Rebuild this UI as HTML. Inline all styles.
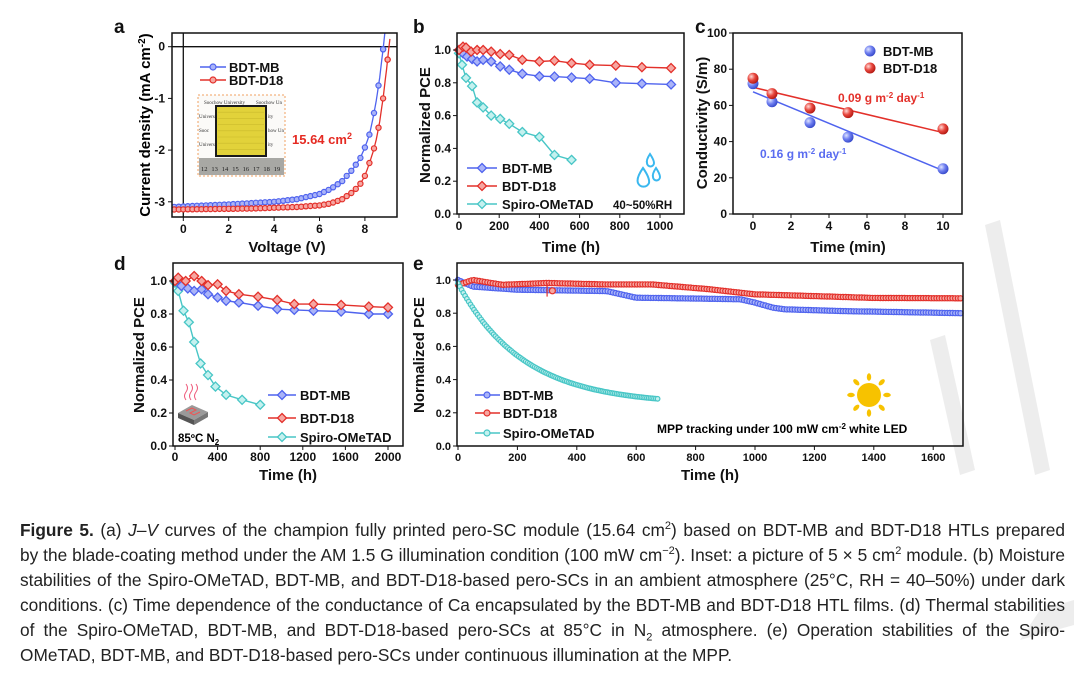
<!DOCTYPE html>
<html><head><meta charset="utf-8">
<style>
html,body{margin:0;padding:0;background:#fff;}
body{width:1074px;height:676px;position:relative;overflow:hidden;font-family:"Liberation Sans",Arial,sans-serif;}
svg{position:absolute;left:0;top:0;}
.cap{position:absolute;left:20px;width:1045px;font-size:17.3px;color:#222;text-align:justify;text-align-last:justify;white-space:nowrap;line-height:20px;}
.cap.last{text-align-last:left;}
sup,sub{line-height:0;}
</style></head><body>
<svg id="s" width="1074" height="676" viewBox="0 0 1074 676" font-family="Liberation Sans, Arial, sans-serif"></svg>
<div class="cap" style="top:520px"><b>Figure 5.</b> (a) <i>J</i>–<i>V</i> curves of the champion fully printed pero-SC module (15.64 cm<sup style="font-size:11px">2</sup>) based on BDT-MB and BDT-D18 HTLs prepared</div>
<div class="cap" style="top:545px">by the blade-coating method under the AM 1.5 G illumination condition (100 mW cm<sup style="font-size:11px">−2</sup>). Inset: a picture of 5 × 5 cm<sup style="font-size:11px">2</sup> module. (b) Moisture</div>
<div class="cap" style="top:570px">stabilities of the Spiro-OMeTAD, BDT-MB, and BDT-D18-based pero-SCs in an ambient atmosphere (25°C, RH = 40–50%) under dark</div>
<div class="cap" style="top:595px">conditions. (c) Time dependence of the conductance of Ca encapsulated by the BDT-MB and BDT-D18 HTL films. (d) Thermal stabilities</div>
<div class="cap" style="top:620px">of the Spiro-OMeTAD, BDT-MB, and BDT-D18-based pero-SCs at 85°C in N<sub style="font-size:11px">2</sub> atmosphere. (e) Operation stabilities of the Spiro-</div>
<div class="cap last" style="top:645px">OMeTAD, BDT-MB, and BDT-D18-based pero-SCs under continuous illumination at the MPP.</div>
<script>
const S=document.getElementById('s');let h='';
const B='#4f63ee',BF='#aab4f8',R='#e3302a',RF='#f6a7a2',C='#48c6c6',CF='#c4f1ef';
h+='<g fill="#e6e6e6" opacity="0.7"><polygon points="985,225 1000,220 1050,470 1035,475"/><polygon points="930,340 945,335 975,470 960,475"/><polygon points="1020,640 1040,610 1074,600 1074,625"/></g>';
function txt(x,y,t,o){o=o||{};h+=`<text x="${x}" y="${y}" font-size="${o.s||12}" font-weight="${o.w||'bold'}" fill="${o.c||'#111'}" text-anchor="${o.a||'start'}"${o.r?` transform="rotate(-90 ${x} ${y})"`:''}>${t}</text>`;}
function box(x1,y1,x2,y2){h+=`<rect x="${x1}" y="${y1}" width="${x2-x1}" height="${y2-y1}" fill="none" stroke="#111" stroke-width="1.5"/>`;}
function interp(p,t){for(let i=0;i<p.length-1;i++){if(t<=p[i+1][0]){let f=(t-p[i][0])/(p[i+1][0]-p[i][0]);return p[i][1]+f*(p[i+1][1]-p[i][1]);}}return p[p.length-1][1];}
function poly(pts,col,w){h+=`<polyline points="${pts.map(p=>p[0].toFixed(1)+','+p[1].toFixed(1)).join(' ')}" fill="none" stroke="${col}" stroke-width="${w||1.5}"/>`;}
function dia(x,y,col,f,r){r=r||5;h+=`<polygon points="${x},${y-r} ${x+r},${y} ${x},${y+r} ${x-r},${y}" fill="${f}" stroke="${col}" stroke-width="1.3"/>`;}
function circ(x,y,col,f,r){h+=`<circle cx="${x.toFixed(1)}" cy="${y.toFixed(1)}" r="${r||3}" fill="${f}" stroke="${col}" stroke-width="1.2"/>`;}
function sph(x,y,id,r){h+=`<circle cx="${x}" cy="${y}" r="${r||5.5}" fill="url(#${id})"/>`;}
h+='<defs><radialGradient id="gb" cx="0.35" cy="0.35" r="0.7"><stop offset="0" stop-color="#dfe4ff"/><stop offset="0.5" stop-color="#6f7ff0"/><stop offset="1" stop-color="#3346c8"/></radialGradient><radialGradient id="gr" cx="0.35" cy="0.35" r="0.7"><stop offset="0" stop-color="#ffd9d6"/><stop offset="0.5" stop-color="#e8473e"/><stop offset="1" stop-color="#b0160f"/></radialGradient><clipPath id="ca"><rect x="172" y="33" width="225" height="184"/></clipPath></defs>';
txt(114,33,'a',{s:19});txt(413,33,'b',{s:19});txt(695,33,'c',{s:19});txt(114,270,'d',{s:19});txt(413,270,'e',{s:19});
// ===== a =====
{const X=v=>183.3+22.7*v,Y=j=>46.7-51.7*j;
h+=`<line x1="172" y1="${Y(0)}" x2="397" y2="${Y(0)}" stroke="#111" stroke-width="1.3"/><line x1="${X(0)}" y1="33" x2="${X(0)}" y2="217" stroke="#111" stroke-width="1.3"/>`;
const mb=[[-0.5,-3.1],[2,-3.05],[4,-3.0],[5,-2.95],[6,-2.85],[6.5,-2.75],[7,-2.6],[7.5,-2.35],[7.8,-2.15],[8,-1.95],[8.2,-1.7],[8.35,-1.4],[8.5,-1.05],[8.65,-0.6],[8.8,-0.05],[8.9,0.35]];
const d18=[[-0.5,-3.15],[3,-3.13],[5,-3.1],[6,-3.07],[6.5,-3.03],[7,-2.95],[7.5,-2.8],[7.8,-2.65],[8,-2.5],[8.2,-2.25],[8.35,-2.05],[8.5,-1.8],[8.65,-1.45],[8.8,-1.0],[8.95,-0.45],[9.1,0.15]];
h+='<g clip-path="url(#ca)">';
[[mb,B,BF],[d18,R,RF]].forEach(([p,c,f])=>{let pts=[];for(let v=-0.5;v<=p[p.length-1][0]+1e-6;v+=0.05)pts.push([X(v),Y(interp(p,v))]);poly(pts,c,1.3);
for(let v=-0.4;v<=p[p.length-1][0]-0.05;v+=0.2)circ(X(v),Y(interp(p,v)),c,f,2.6);circ(X(p[p.length-1][0]-0.1),Y(interp(p,p[p.length-1][0]-0.1)),c,f,2.6);});
h+='</g>';box(172,33,397,217);
[[0,'0'],[-1,'-1'],[-2,'-2'],[-3,'-3']].forEach(([v,t])=>{h+=`<line x1="168" x2="172" y1="${Y(v)}" y2="${Y(v)}" stroke="#111"/>`;txt(165,Y(v)+4,t,{a:'end'});});
[0,2,4,6,8].forEach(v=>{h+=`<line x1="${X(v)}" x2="${X(v)}" y1="217" y2="221" stroke="#111"/>`;txt(X(v),233,v,{a:'middle'});});
txt(287,252,'Voltage (V)',{s:15,a:'middle'});
h+=`<text x="150" y="125" font-size="15" font-weight="bold" text-anchor="middle" transform="rotate(-90 150 125)">Current density (mA cm<tspan dy="-5" font-size="10">-2</tspan><tspan dy="5">)</tspan></text>`;
h+=`<line x1="200" x2="226" y1="67" y2="67" stroke="${B}" stroke-width="1.5"/><line x1="200" x2="226" y1="80" y2="80" stroke="${R}" stroke-width="1.5"/>`;circ(213,67,B,BF,3);circ(213,80,R,RF,3);
txt(229,72,'BDT-MB',{s:13});txt(229,85,'BDT-D18',{s:13});
h+='<rect x="198" y="95" width="87" height="81" fill="#fbfaf8" stroke="#f0a060" stroke-dasharray="2,2"/>';
h+='<g font-family="Liberation Serif,serif" font-size="5" fill="#333"><text x="204" y="104">Soochow University</text><text x="256" y="104">Soochow Un</text><text x="199" y="118">Universi</text><text x="199" y="132">Sooc</text><text x="199" y="146">Universi</text><text x="268" y="118">ity</text><text x="268" y="132">how Un</text><text x="268" y="146">ity</text></g>';
h+='<rect x="216" y="106" width="50" height="50" fill="#e2d23a" stroke="#1a1a1a" stroke-width="2"/>';
for(let i=1;i<8;i++)h+=`<line x1="218" x2="264" y1="${106+i*6.2}" y2="${106+i*6.2}" stroke="#cbbb2c" stroke-width="0.6"/>`;
h+='<rect x="199" y="158" width="85" height="17" fill="#a8a8a4"/>';
h+='<g font-family="Liberation Serif,serif" font-size="6.5" fill="#222">';[12,13,14,15,16,17,18,19].forEach((n,i)=>h+=`<text x="${201+i*10.4}" y="171">${n}</text>`);h+='</g>';
h+=`<text x="292" y="144" font-size="13" font-weight="bold" fill="#e52a22">15.64 cm<tspan dy="-5" font-size="9">2</tspan></text>`;
}
// ===== b =====
{const X=t=>459+t*0.201,Y=v=>214-v*164;
const mb=[[0,1.0],[20,0.98],[40,0.96],[65,0.945],[90,0.93],[120,0.94],[160,0.93],[205,0.9],[250,0.88],[315,0.855],[400,0.84],[475,0.838],[560,0.832],[650,0.825],[780,0.8],[910,0.795],[1055,0.79]];
const d18=[[0,1.0],[20,1.02],[35,1.015],[60,0.99],[90,1.0],[120,1.0],[160,0.99],[205,0.975],[250,0.97],[315,0.94],[400,0.93],[475,0.935],[560,0.92],[650,0.91],[780,0.905],[910,0.895],[1055,0.89]];
const sp=[[0,0.98],[15,0.91],[35,0.83],[65,0.78],[90,0.68],[120,0.65],[160,0.6],[205,0.58],[250,0.55],[315,0.5],[400,0.47],[475,0.36],[560,0.33]];
[[sp,C,CF],[mb,B,BF],[d18,R,RF]].forEach(([p,c,f])=>{poly(p.map(q=>[X(q[0]),Y(q[1])]),c,1.4);p.forEach(q=>dia(X(q[0]),Y(q[1]),c,f,4.5));});
box(457,33,684,214);
for(let i=0;i<=5;i++){let v=i*0.2;h+=`<line x1="453" x2="457" y1="${Y(v)}" y2="${Y(v)}" stroke="#111"/>`;txt(451,Y(v)+4,v.toFixed(1),{a:'end'});}
[0,200,400,600,800,1000].forEach(t=>{h+=`<line x1="${X(t)}" x2="${X(t)}" y1="214" y2="218" stroke="#111"/>`;txt(X(t),230,t,{a:'middle'});});
txt(571,252,'Time (h)',{s:15,a:'middle'});txt(430,125,'Normalized PCE',{s:15,a:'middle',r:1});
[[168,B,BF,'BDT-MB'],[186,R,RF,'BDT-D18'],[204,C,CF,'Spiro-OMeTAD']].forEach(([y,c,f,t])=>{h+=`<line x1="467" x2="497" y1="${y}" y2="${y}" stroke="${c}" stroke-width="1.5"/>`;dia(482,y,c,f,4.5);txt(502,y+5,t,{s:13});});
txt(613,209,'40~50%RH',{s:11.5});
h+=`<g fill="none" stroke="#3ab8ef" stroke-width="2"><path d="M643,168 q-7,10 -5,15 a6,6 0 0 0 11,0 q1,-5 -6,-15z"/><path d="M650,154 q-4,6 -3,9 a3.5,3.5 0 0 0 7,0 q0,-3 -4,-9z"/><path d="M656,168 q-4,6 -3,9 a3.5,3.5 0 0 0 7,0 q0,-3 -4,-9z"/></g>`;
}
// ===== c =====
{const X=t=>753+19*t,Y=v=>214-1.81*v;
h+=`<line x1="${X(0)}" y1="${Y(67.5)}" x2="${X(10)}" y2="${Y(24)}" stroke="${B}" stroke-width="1.5"/><line x1="${X(0)}" y1="${Y(70)}" x2="${X(10)}" y2="${Y(45)}" stroke="${R}" stroke-width="1.5"/>`;
[[0,72],[1,62],[3,50.5],[5,42.5],[10,25]].forEach(q=>sph(X(q[0]),Y(q[1]),'gb'));
[[0,75],[1,66.5],[3,58.5],[5,56],[10,47]].forEach(q=>sph(X(q[0]),Y(q[1]),'gr'));
box(733,33,962,214);
for(let v=0;v<=100;v+=20){h+=`<line x1="729" x2="733" y1="${Y(v)}" y2="${Y(v)}" stroke="#111"/>`;txt(727,Y(v)+4,v,{a:'end'});}
for(let t=0;t<=10;t+=2){h+=`<line x1="${X(t)}" x2="${X(t)}" y1="214" y2="218" stroke="#111"/>`;txt(X(t),230,t,{a:'middle'});}
txt(848,252,'Time (min)',{s:15,a:'middle'});txt(707,123,'Conductivity (S/m)',{s:15,a:'middle',r:1});
sph(870,51,'gb');sph(870,68,'gr');txt(883,56,'BDT-MB',{s:13});txt(883,73,'BDT-D18',{s:13});
h+=`<text x="838" y="102" font-size="12" font-weight="bold" fill="${R}">0.09 g m<tspan dy="-4" font-size="8">-2</tspan><tspan dy="4"> day</tspan><tspan dy="-4" font-size="8">-1</tspan></text>`;
h+=`<text x="760" y="158" font-size="12" font-weight="bold" fill="#5a6cf0">0.16 g m<tspan dy="-4" font-size="8">-2</tspan><tspan dy="4"> day</tspan><tspan dy="-4" font-size="8">-1</tspan></text>`;
}
// ===== d =====
{const X=t=>175+t*0.1065,Y=v=>446-v*165;
const mb=[[0,1.0],[60,0.97],[120,0.955],[180,0.94],[250,0.95],[310,0.92],[400,0.9],[480,0.88],[600,0.87],[780,0.85],[960,0.83],[1120,0.825],[1300,0.82],[1560,0.815],[1820,0.8],[2000,0.8]];
const d18=[[0,1.0],[30,1.02],[100,1.0],[180,1.03],[250,1.0],[310,0.975],[400,0.98],[480,0.94],[600,0.92],[780,0.905],[960,0.885],[1120,0.86],[1300,0.86],[1560,0.855],[1820,0.845],[2000,0.84]];
const sp=[[0,0.99],[30,0.94],[80,0.82],[130,0.75],[180,0.63],[240,0.5],[310,0.43],[380,0.36],[480,0.31],[630,0.28],[800,0.25]];
[[sp,C,CF],[mb,B,BF],[d18,R,RF]].forEach(([p,c,f])=>{poly(p.map(q=>[X(q[0]),Y(q[1])]),c,1.4);p.forEach(q=>dia(X(q[0]),Y(q[1]),c,f,4.5));});
box(173,263,403,446);
for(let i=0;i<=5;i++){let v=i*0.2;h+=`<line x1="169" x2="173" y1="${Y(v)}" y2="${Y(v)}" stroke="#111"/>`;txt(167,Y(v)+4,v.toFixed(1),{a:'end'});}
[0,400,800,1200,1600,2000].forEach(t=>{h+=`<line x1="${X(t)}" x2="${X(t)}" y1="446" y2="450" stroke="#111"/>`;txt(X(t),461,t,{a:'middle'});});
txt(288,480,'Time (h)',{s:15,a:'middle'});txt(144,355,'Normalized PCE',{s:15,a:'middle',r:1});
[[395,B,BF,'BDT-MB'],[418,R,RF,'BDT-D18'],[437,C,CF,'Spiro-OMeTAD']].forEach(([y,c,f,t])=>{h+=`<line x1="268" x2="296" y1="${y}" y2="${y}" stroke="${c}" stroke-width="1.5"/>`;dia(282,y,c,f,4.5);txt(300,y+5,t,{s:13});});
h+='<polygon points="178,413 192,405 208,412 194,420" fill="#9a9a9a"/><polygon points="178,413 194,420 194,425 178,418" fill="#555"/><polygon points="194,420 208,412 208,417 194,425" fill="#777"/>';
h+='<path d="M186,411 l6,-3 l4,2 l-6,3 l4,2 l6,-3" fill="none" stroke="#e55" stroke-width="1"/>';
h+='<g fill="none" stroke="#e57" stroke-width="1"><path d="M186,400 q-3,-4 0,-8 q3,-4 0,-8"/><path d="M191,400 q-3,-4 0,-8 q3,-4 0,-8"/><path d="M196,400 q-3,-4 0,-8 q3,-4 0,-8"/></g>';
h+=`<text x="178" y="442" font-size="11.5" font-weight="bold">85ºC N<tspan dy="3" font-size="8">2</tspan></text>`;
}
// ===== e =====
{const X=t=>458+t*0.297,Y=v=>446-v*166;
const mb=[[0,1.0],[50,0.96],[200,0.94],[500,0.93],[600,0.89],[950,0.88],[1000,0.86],[1060,0.83],[1100,0.82],[1300,0.81],[1700,0.80]];
const d18=[[0,0.97],[50,1.0],[150,0.97],[300,0.98],[500,0.97],[650,0.97],[850,0.94],[1000,0.91],[1200,0.9],[1400,0.89],[1700,0.89]];
const sf=t=>0.25+0.73*Math.exp(-t/220);
[[mb,B,BF],[d18,R,RF]].forEach(([p,c,f])=>{for(let t=0;t<=1700;t+=9){circ(X(t),Y(interp(p,t)+Math.sin(t*0.7)*0.004),c,f,2.6);}});
h+=`<line x1="${X(300)}" x2="${X(300)}" y1="${Y(0.98)}" y2="${Y(0.9)}" stroke="${R}" stroke-width="1.2"/>`;circ(X(318),Y(0.935),R,RF,3);
for(let t=0;t<=675;t+=6)circ(X(t),Y(sf(t)),C,CF,2.3);
box(457,263,963,446);
for(let i=0;i<=5;i++){let v=i*0.2;h+=`<line x1="453" x2="457" y1="${Y(v)}" y2="${Y(v)}" stroke="#111"/>`;txt(451,Y(v)+4,v.toFixed(1),{a:'end',s:11});}
for(let t=0;t<=1600;t+=200){h+=`<line x1="${X(t)}" x2="${X(t)}" y1="446" y2="450" stroke="#111"/>`;txt(X(t),461,t,{a:'middle',s:11});}
txt(710,480,'Time (h)',{s:15,a:'middle'});txt(424,355,'Normalized PCE',{s:15,a:'middle',r:1});
[[395,B,BF,'BDT-MB'],[413,R,RF,'BDT-D18'],[433,C,CF,'Spiro-OMeTAD']].forEach(([y,c,f,t])=>{h+=`<line x1="475" x2="500" y1="${y}" y2="${y}" stroke="${c}" stroke-width="1.5"/>`;circ(487,y,c,f,3);txt(503,y+5,t,{s:13});});
h+=`<text x="657" y="433" font-size="12" font-weight="bold">MPP tracking under 100 mW cm<tspan dy="-4" font-size="8">-2</tspan><tspan dy="4"> white LED</tspan></text>`;
let sx=869,sy=395;h+=`<circle cx="${sx}" cy="${sy}" r="12" fill="#f7c200"/>`;
for(let k=0;k<8;k++){let a=k*Math.PI/4;let x=sx+18*Math.cos(a),y=sy+18*Math.sin(a);h+=`<ellipse cx="${x.toFixed(1)}" cy="${y.toFixed(1)}" rx="2.2" ry="3.8" fill="#f7c200" transform="rotate(${k*45+90} ${x.toFixed(1)} ${y.toFixed(1)})"/>`;}
}
S.innerHTML=h;
</script>
</body></html>
